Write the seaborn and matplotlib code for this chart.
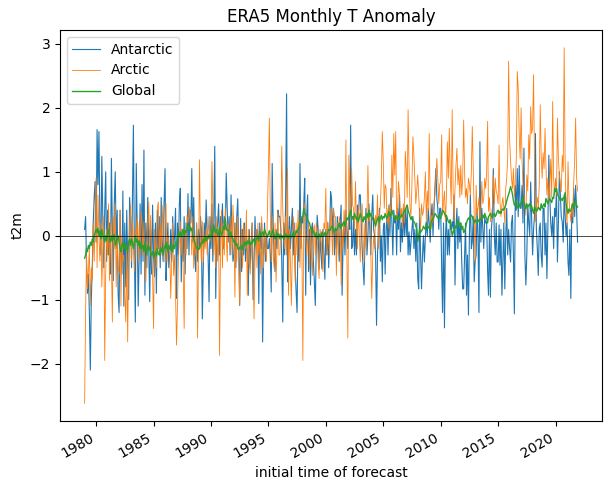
import numpy as np
import pandas as pd
import matplotlib
matplotlib.use("Agg")
import matplotlib.pyplot as plt
import seaborn as sns

# monthly t2m anomalies, one row per year 1979..2021
antarctic = [
    0.1, 0.3, -0.4, -0.9, -0.6, -1.2, -2.1, -1.0, -0.5, 0.2, 0.6, 0.85,
    -0.1, 1.66, 0.8, 1.63, 0.2, -0.3, 1.24, 0.3, -0.5, 0.4, 1.0, -0.4,
    0.4, -0.3, 0.2, -0.6, 1.21, 0.1, -0.7, 0.5, 1.0, -0.2, 0.4, -0.9,
    -1.2, 0.4, -0.3, -0.6, 0.7, -1.1, 0.2, -0.8, 0.4, -0.4, -1.0, 0.6,
    0.3, -0.5, 0.6, 1.73, -0.2, -1.35, 1.13, 0.1, -1.1, -0.3, 0.5, -0.6,
    0.8, -0.4, 1.34, -0.93, 0.2, -0.5, 0.6, -0.2, -1.03, 0.1, -0.6, 0.48,
    -0.3, -0.64, 0.2, -0.9, 0.4, -0.2, 0.3, -0.5, 0.6, -0.1, -0.4, 0.5,
    1.05, -0.7, -0.3, 0.2, -0.5, -0.3, 0.1, -0.4, 0.3, -0.2, 0.0, 0.43,
    -0.98, 0.2, -0.3, 0.5, 0.74, -0.72, 0.1, -0.4, 0.3, -0.6, 0.2, -0.2,
    0.66, -0.3, 0.4, 0.2, 1.05, -0.1, 0.6, -0.3, -0.56, 0.2, -0.4, 0.1,
    -0.2, 0.3, 0.1, -1.3, -0.5, 0.2, -0.1, 0.56, 0.0, -0.3, -1.03, 0.3,
    -0.2, 0.5, -0.4, 0.3, 1.4, -0.98, 0.0, 0.2, 0.5, -0.3, 0.3, 0.1,
    0.5, -0.2, 0.3, 0.1, 0.98, 0.43, -0.1, 0.3, -0.3, 0.64, 0.0, -0.4,
    -0.3, 0.2, -0.5, 0.3, 0.58, -0.2, -1.09, 0.27, -0.56, 0.1, -0.3, 0.2,
    -0.4, 0.0, -0.3, -0.93, 0.1, -0.5, -0.1, 0.2, -1.0, -0.4, 0.3, -0.2,
    0.1, 0.06, -1.06, 0.2, -0.2, 0.2, -1.66, -0.3, 0.2, -0.4, 0.0, -0.2,
    -0.2, -0.04, -0.3, -0.88, 1.13, 0.2, -0.3, -0.56, 0.1, -0.2, 0.4, 0.3,
    0.3, 0.1, -0.4, -1.35, 0.2, -0.3, 0.5, 2.22, -0.72, 0.0, 0.3, -0.2,
    0.1, 0.43, -0.3, 0.2, -0.5, -0.88, -1.2, 0.1, -0.4, 1.13, -0.2, 0.3,
    0.2, 0.53, 0.9, -0.93, 0.3, 0.64, -0.56, 0.1, -0.77, 0.1, 0.2, -0.4,
    -0.72, -1.09, -0.2, 0.32, 0.1, -0.52, 0.0, -0.3, -0.52, 0.1, -0.3, -0.68,
    0.1, -0.3, 0.2, -0.5, 0.0, 0.69, 0.58, 0.0, 0.43, -0.3, 0.1, -0.2,
    0.3, 0.0, -0.4, 0.2, 0.48, -0.93, -0.15, 0.22, -0.3, 0.4, 0.1, -0.2,
    0.32, 0.1, 1.73, -0.2, -0.15, 0.3, -0.3, 0.1, -0.3, 0.48, 0.2, 0.64,
    0.64, 0.22, -0.2, -0.51, -0.77, 0.0, 0.43, -0.3, 0.0, 0.5, 0.1, -0.3,
    0.32, 0.64, 0.1, 0.0, -0.3, -1.4, -0.3, 0.1, 0.43, -0.4, 0.0, -0.72,
    0.1, 0.2, -0.6, 0.1, 0.32, -0.3, 0.48, 0.0, 0.74, 0.2, -0.3, 0.4,
    0.2, 0.32, -0.3, 0.43, 0.1, 0.64, -0.25, 0.2, -0.1, 0.43, 0.0, 0.43,
    0.0, 0.43, -0.3, 0.06, -0.3, -0.1, 0.1, 0.3, -0.2, 0.1, -0.4, 0.2,
    -0.67, -0.83, 0.43, -0.3, -0.83, -0.3, 0.0, -0.41, 0.0, 0.22, 0.0, 0.43,
    0.2, -0.1, 0.3, 0.5, 0.0, 0.4, 0.74, 1.05, 0.58, 0.43, 0.1, 0.43,
    0.43, -0.51, -1.2, 0.2, -1.44, 0.0, 0.32, -0.3, 0.1, -0.3, 0.2, 0.1,
    0.22, 0.11, 0.64, -0.77, 0.11, 0.43, -0.2, 0.3, -0.1, 0.2, -0.41, -0.83,
    -0.83, -0.3, 0.2, -0.93, -0.3, -1.24, 0.0, 0.64, -0.2, -0.1, 0.3, -0.72,
    -0.4, -0.3, 0.43, 0.0, -1.2, 1.47, -0.1, 0.43, 0.1, -0.2, 0.3, 0.2,
    0.22, -0.56, -0.93, 0.1, -0.96, 0.11, 0.3, 1.05, 0.0, -0.3, 0.2, -0.41,
    -0.41, 0.17, -0.46, 0.1, -0.93, -0.41, 0.2, -0.83, 0.0, 0.43, -0.3, 0.1,
    -0.2, -0.41, 0.2, 0.32, -0.3, -1.22, 0.79, 0.4, 1.05, 0.3, 1.1, 0.43,
    0.43, 0.79, 0.2, 1.37, -0.3, -0.77, -0.3, 0.48, 0.2, 0.0, 0.84, 0.3,
    -0.3, 0.11, 0.3, 1.6, 0.11, -0.2, -0.62, 0.11, 0.2, -0.3, -0.49, 0.43,
    0.43, -0.3, 0.2, -0.67, 0.1, 1.26, 0.64, 0.2, 0.0, 0.3, -0.2, 0.43,
    0.3, 0.74, -0.41, 0.2, 1.0, 0.64, 0.3, 0.22, -0.1, 0.64, 0.3, 0.0,
    0.2, -0.41, -0.62, 0.1, -0.98, 0.43, 0.2, 0.74, 0.3, 0.79, 0.4, -0.1,
]

arctic = [
    -2.62, -1.2, -0.3, -0.83, -0.56, -0.2, -1.09, -0.5, -0.7, 0.2, -0.4, 0.3,
    0.9, -0.5, 0.64, 0.0, -0.4, 0.2, -0.8, -0.2, 0.3, -1.95, -0.6, 0.1,
    -0.3, 0.5, -0.7, 0.2, -0.4, -1.35, 0.3, -0.2, 0.5, -0.8, 0.0, -0.5,
    -0.6, 0.4, -1.1, 0.0, -0.4, -0.3, -0.9, -1.35, -0.2, -1.66, -0.3, 0.2,
    0.48, -0.41, 0.22, -0.2, -0.56, 0.1, 0.0, 0.32, -0.4, 0.2, -0.3, 0.38,
    0.2, -0.3, 0.22, -0.5, -0.72, -0.1, 0.2, 0.53, -0.2, 0.32, -0.3, -0.6,
    -1.45, 0.1, -0.16, -0.5, 0.43, 0.53, -0.3, 0.2, -0.3, 0.48, 0.11, -0.41,
    0.11, 0.5, -0.41, 0.0, -0.2, -0.25, -0.98, -0.41, 0.2, -0.62, -0.3, -0.9,
    -1.71, -1.09, -0.41, 0.0, 0.22, -0.3, 0.1, -0.5, -1.45, 0.1, -0.3, 0.32,
    0.2, 0.32, 0.45, 0.11, -0.3, 0.3, -0.51, 0.0, -0.3, 0.2, -1.6, -0.4,
    1.19, -0.04, -0.41, 0.22, -0.41, 0.0, -0.2, 0.11, -0.3, 0.3, 0.0, -0.1,
    0.1, 1.16, 0.43, -0.3, 0.2, -0.5, 0.3, -0.4, 0.1, -1.87, -0.2, 0.4,
    -0.5, 0.2, -0.3, 0.43, 0.0, -0.4, 0.2, 0.11, -0.2, 0.3, -0.3, 0.48,
    0.1, -0.96, 0.2, -0.4, 0.3, -0.2, -1.09, -0.3, 0.1, -0.5, 0.2, 0.0,
    -0.2, 0.4, -0.93, 0.1, -0.3, -0.6, -0.3, 0.2, -0.5, -1.3, -0.4, 0.1,
    -0.5, 0.2, -0.3, 0.0, -0.6, 0.3, -0.2, -0.5, 0.1, -0.2, -0.4, 0.4,
    1.05, 1.84, 0.43, -0.41, 0.3, -0.3, -0.5, 0.2, -0.72, -0.2, 0.4, -0.3,
    -0.3, 0.2, 1.4, 0.43, 0.0, -0.2, 0.3, -0.3, 1.05, -0.93, 0.1, -0.4,
    -1.09, -0.2, 0.3, 0.1, -0.72, 0.2, -0.3, 0.4, 0.0, -0.5, 0.2, -0.2,
    -1.95, 0.53, 0.43, -0.04, -0.3, -0.04, 0.2, -0.51, 0.1, -0.3, -0.62, 0.1,
    0.17, -0.3, 0.2, 0.0, -0.4, -0.67, 0.1, 0.0, -0.3, -0.56, 0.2, 0.11,
    0.74, -0.3, 0.22, 0.0, -0.3, 0.43, 0.1, -0.3, 0.43, 0.3, 0.3, -0.62,
    0.2, -0.3, 0.3, 0.22, -0.77, 0.1, -0.2, 0.4, 0.0, 1.5, -0.3, -1.6,
    1.26, 0.74, 0.33, 1.05, 0.48, 0.43, 0.1, 0.85, 0.22, -0.2, 0.48, 0.0,
    -0.41, 0.3, 0.5, -0.04, -0.41, 0.2, -0.2, 0.3, 1.1, 0.22, 0.4, -0.3,
    -0.98, -0.3, 0.0, -0.2, 0.32, 0.2, 0.64, -0.2, 0.3, 0.5, 0.9, 1.63,
    1.16, 0.43, 0.8, 0.74, 0.2, 0.43, 0.11, 0.5, 0.3, 1.26, 0.6, 1.6,
    0.95, 1.63, 0.22, 0.43, 0.85, 0.64, 0.3, 0.43, 0.11, 0.5, 0.2, 1.32,
    1.05, 0.6, 1.97, 1.05, 0.43, 0.32, 0.8, 1.55, 1.26, 0.9, 0.5, 0.7,
    0.95, 0.64, 0.3, 0.11, 0.5, 0.32, 0.38, 0.6, 1.0, 0.22, 0.7, 0.4,
    1.6, 0.43, 0.11, 0.32, 0.2, 0.5, 0.64, 0.95, 1.21, 0.9, 0.5, 0.8,
    0.85, 1.58, 0.32, 0.53, 0.7, 0.22, 0.6, 1.47, 0.9, 1.68, 0.95, 0.5,
    1.97, 0.69, 0.22, 0.74, 1.1, 1.37, 0.8, 1.05, 0.6, 1.1, 0.64, 0.9,
    1.81, 0.95, 0.6, 0.74, 0.5, 0.9, 0.8, 0.64, 1.0, 1.71, 1.05, 0.3,
    -0.41, 0.79, 0.32, 0.43, 0.6, 0.22, 0.4, 0.85, 0.5, 0.58, 0.9, 0.74,
    1.0, 1.79, 0.38, 0.6, 0.22, 0.3, 0.43, 0.95, 0.5, 0.9, 0.7, 0.64,
    0.5, 1.42, 0.53, 0.3, 0.48, 0.6, 0.43, 0.2, 0.74, 0.9, 1.21, 2.73,
    1.52, 1.16, 0.9, 0.74, 1.05, 0.6, 0.85, 1.2, 2.57, 2.3, 1.58, 1.2,
    2.0, 1.16, 0.8, 0.64, 0.5, 0.32, 0.95, 0.7, 1.58, 1.2, 2.02, 1.6,
    1.68, 2.52, 1.2, 0.22, 0.48, 0.6, 0.43, 0.8, 2.05, 1.26, 0.9, 1.3,
    1.05, 1.68, 1.1, 0.64, 0.9, 0.53, 0.8, 1.2, 0.6, 2.1, 0.9, 0.64,
    0.9, 0.64, 1.84, 1.2, 0.95, 0.8, 0.69, 1.26, 1.0, 2.94, 1.16, 0.43,
    0.17, 1.16, 0.6, 0.38, 0.22, 0.5, 0.3, 0.85, 1.2, 1.84, 0.9, 0.7,
]

global_mean = [
    -0.35, -0.3, -0.2, -0.25, -0.15, -0.2, -0.1, -0.15, -0.05, -0.1, 0.0, 0.05,
    0.1, 0.05, 0.12, 0.0, 0.08, -0.05, 0.1, 0.02, -0.05, -0.1, 0.0, -0.08,
    0.05, 0.1, -0.05, -0.1, 0.0, -0.08, -0.05, 0.02, -0.15, -0.1, -0.05, 0.0,
    -0.1, -0.2, -0.25, -0.15, -0.1, -0.2, -0.12, -0.22, -0.15, -0.25, -0.1, -0.05,
    -0.15, -0.05, -0.1, -0.2, -0.12, 0.0, -0.1, -0.05, -0.15, -0.08, -0.2, -0.1,
    -0.2, -0.15, -0.25, -0.1, -0.2, -0.3, -0.15, -0.22, -0.18, -0.28, -0.3, -0.25,
    -0.35, -0.3, -0.25, -0.32, -0.2, -0.28, -0.3, -0.2, -0.25, -0.18, -0.3, -0.2,
    -0.15, -0.2, -0.1, -0.25, -0.15, -0.2, -0.22, -0.12, -0.25, -0.15, -0.2, -0.1,
    -0.15, -0.05, 0.05, 0.0, 0.06, -0.02, 0.05, 0.1, 0.0, 0.08, 0.05, 0.12,
    0.17, 0.1, 0.15, 0.08, 0.12, 0.0, -0.05, -0.1, -0.15, -0.2, -0.18, -0.22,
    -0.2, -0.15, -0.1, -0.12, -0.05, -0.1, 0.0, -0.08, -0.02, -0.05, 0.02, -0.03,
    0.0, 0.1, 0.05, 0.17, 0.08, 0.05, 0.1, 0.0, 0.03, 0.12, 0.07, 0.0,
    0.05, 0.15, 0.1, 0.27, 0.12, 0.08, 0.1, 0.05, 0.0, 0.06, -0.03, -0.05,
    -0.1, -0.08, -0.15, -0.12, -0.2, -0.22, -0.18, -0.2, -0.15, -0.22, -0.12, -0.15,
    -0.1, -0.15, -0.08, -0.12, -0.05, -0.15, -0.1, -0.12, -0.05, -0.08, -0.15, -0.05,
    -0.05, 0.0, -0.08, 0.05, -0.02, 0.03, 0.06, 0.0, 0.1, 0.05, 0.02, -0.02,
    0.03, 0.08, 0.0, -0.02, 0.05, 0.1, 0.02, -0.05, 0.0, 0.04, -0.02, 0.03,
    -0.05, 0.02, -0.03, 0.0, -0.06, 0.0, 0.03, -0.02, 0.01, -0.04, 0.0, 0.02,
    -0.02, 0.0, 0.05, -0.03, 0.02, 0.08, 0.05, 0.1, 0.15, 0.22, 0.25, 0.27,
    0.3, 0.43, 0.35, 0.32, 0.3, 0.25, 0.22, 0.2, 0.12, 0.1, 0.05, 0.08,
    0.02, -0.02, 0.05, 0.0, -0.05, 0.03, 0.0, -0.02, 0.06, 0.02, 0.0, 0.05,
    0.0, 0.03, 0.05, 0.1, 0.08, 0.1, 0.15, 0.12, 0.1, 0.05, 0.12, 0.08,
    0.1, 0.15, 0.2, 0.12, 0.18, 0.15, 0.2, 0.22, 0.15, 0.2, 0.28, 0.25,
    0.3, 0.35, 0.4, 0.25, 0.3, 0.27, 0.35, 0.3, 0.25, 0.3, 0.22, 0.28,
    0.35, 0.3, 0.25, 0.22, 0.3, 0.25, 0.3, 0.35, 0.28, 0.4, 0.3, 0.35,
    0.3, 0.25, 0.28, 0.2, 0.15, 0.22, 0.25, 0.3, 0.2, 0.28, 0.32, 0.25,
    0.3, 0.28, 0.35, 0.3, 0.27, 0.32, 0.38, 0.3, 0.33, 0.4, 0.35, 0.3,
    0.25, 0.3, 0.27, 0.3, 0.25, 0.3, 0.28, 0.33, 0.3, 0.35, 0.4, 0.38,
    0.45, 0.48, 0.4, 0.35, 0.3, 0.25, 0.3, 0.25, 0.22, 0.2, 0.15, 0.1,
    -0.09, 0.0, 0.1, 0.05, 0.08, 0.1, 0.15, 0.12, 0.1, 0.2, 0.15, 0.12,
    0.15, 0.1, 0.2, 0.25, 0.27, 0.3, 0.35, 0.33, 0.3, 0.28, 0.32, 0.3,
    0.27, 0.35, 0.4, 0.38, 0.35, 0.3, 0.32, 0.27, 0.22, 0.2, 0.25, 0.12,
    0.0, 0.05, 0.1, 0.15, 0.12, 0.2, 0.25, 0.2, 0.15, 0.2, 0.1, 0.15,
    0.05, 0.08, 0.12, 0.2, 0.25, 0.28, 0.25, 0.3, 0.32, 0.3, 0.25, 0.2,
    0.25, 0.22, 0.2, 0.25, 0.22, 0.27, 0.25, 0.3, 0.32, 0.28, 0.35, 0.3,
    0.27, 0.2, 0.3, 0.32, 0.35, 0.3, 0.28, 0.32, 0.35, 0.3, 0.33, 0.38,
    0.4, 0.35, 0.38, 0.35, 0.4, 0.42, 0.4, 0.45, 0.48, 0.55, 0.6, 0.65,
    0.7, 0.77, 0.72, 0.65, 0.55, 0.48, 0.5, 0.55, 0.45, 0.43, 0.5, 0.45,
    0.5, 0.55, 0.6, 0.52, 0.48, 0.42, 0.5, 0.45, 0.48, 0.5, 0.43, 0.47,
    0.4, 0.35, 0.45, 0.43, 0.38, 0.4, 0.45, 0.42, 0.4, 0.5, 0.43, 0.47,
    0.5, 0.45, 0.58, 0.55, 0.5, 0.55, 0.58, 0.55, 0.52, 0.6, 0.58, 0.74,
    0.69, 0.74, 0.65, 0.62, 0.6, 0.55, 0.58, 0.55, 0.6, 0.58, 0.68, 0.5,
    0.4, 0.35, 0.42, 0.38, 0.4, 0.45, 0.5, 0.42, 0.5, 0.55, 0.48, 0.45,
]

times = pd.date_range("1979-01-01", periods=len(antarctic), freq="MS")

fig = plt.figure(figsize=(6.12, 4.84), dpi=100)
ax = fig.add_axes([0.098, 0.130, 0.886, 0.808])

sns.lineplot(x=times, y=antarctic, ax=ax, color="C0", linewidth=0.8, label="Antarctic")
sns.lineplot(x=times, y=arctic, ax=ax, color="C1", linewidth=0.6, label="Arctic")
sns.lineplot(x=times, y=global_mean, ax=ax, color="C2", linewidth=1.0, label="Global")
ax.axhline(0, color="k", linewidth=0.5)

ax.set_title("ERA5 Monthly T Anomaly")
ax.set_ylabel("t2m")
ax.set_xlabel("initial time of forecast")
ax.legend(loc="upper left")
plt.setp(ax.get_xticklabels(), rotation=30, ha="right")

fig.savefig("out.png", dpi=100)
